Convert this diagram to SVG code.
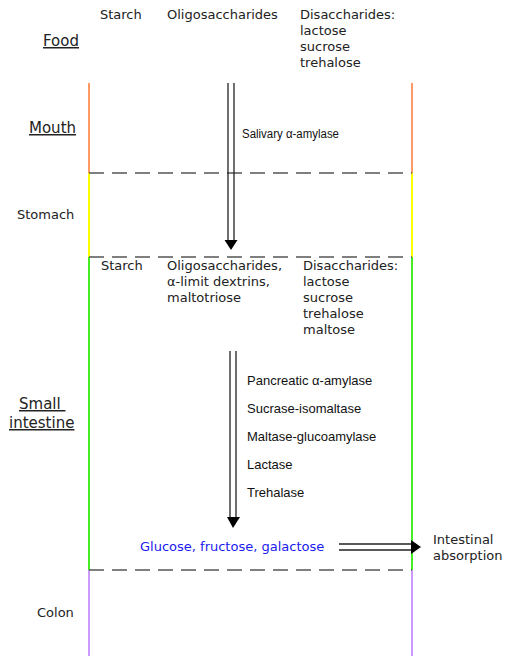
<svg xmlns="http://www.w3.org/2000/svg" width="510" height="656" viewBox="0 0 510 656">
<style>
.t{font-family:"DejaVu Sans",Verdana,sans-serif;font-size:13px;fill:#222}
.h{font-family:"DejaVu Sans",Verdana,sans-serif;font-size:15px;fill:#222;text-decoration:underline}
.e{font-family:"Liberation Sans",Arial,sans-serif;font-size:13px;fill:#111}
.d{stroke:#555;stroke-width:1.5;stroke-dasharray:15 8;fill:none}
.s{stroke:#222;stroke-width:1.3;fill:none}
</style>
<rect width="510" height="656" fill="#fff"/>
<g id="walls">
<line x1="89" y1="83" x2="89" y2="173" stroke="#ff9966" stroke-width="2"/>
<line x1="412" y1="83" x2="412" y2="173" stroke="#ff9966" stroke-width="2"/>
<line x1="89" y1="173" x2="89" y2="257" stroke="#ffff00" stroke-width="2"/>
<line x1="412" y1="173" x2="412" y2="257" stroke="#ffff00" stroke-width="2"/>
<line x1="89" y1="257" x2="89" y2="570" stroke="#44ee22" stroke-width="2"/>
<line x1="412" y1="257" x2="412" y2="570" stroke="#44ee22" stroke-width="2"/>
<line x1="89" y1="570" x2="89" y2="656" stroke="#cc99ff" stroke-width="2"/>
<line x1="412" y1="570" x2="412" y2="656" stroke="#cc99ff" stroke-width="2"/>
<line class="d" x1="89" y1="173" x2="412" y2="173"/>
<line class="d" x1="89" y1="257" x2="412" y2="257"/>
<line class="d" x1="89" y1="570" x2="412" y2="570"/>
</g>
<g id="labels">
<text class="h" x="43" y="46">Food</text>
<text class="h" x="29" y="133">Mouth</text>
<text class="t" x="17" y="219">Stomach</text>
<text class="h" x="19" y="409" xml:space="preserve">Small </text>
<text class="h" x="9" y="428">intestine</text>
<text class="t" x="37" y="617">Colon</text>
</g>
<g id="food">
<text class="t" x="100" y="19">Starch</text>
<text class="t" x="167" y="19">Oligosaccharides</text>
<text class="t" x="300" y="19">Disaccharides:<tspan x="300" dy="16">lactose</tspan><tspan x="300" dy="16">sucrose</tspan><tspan x="300" dy="16">trehalose</tspan></text>
</g>
<g id="intestine-input">
<text class="t" x="101" y="270">Starch</text>
<text class="t" x="167" y="270">Oligosaccharides,<tspan x="167" dy="16">α-limit dextrins,</tspan><tspan x="167" dy="16">maltotriose</tspan></text>
<text class="t" x="303" y="270">Disaccharides:<tspan x="303" dy="16">lactose</tspan><tspan x="303" dy="16">sucrose</tspan><tspan x="303" dy="16">trehalose</tspan><tspan x="303" dy="16">maltose</tspan></text>
</g>
<g id="enzymes">
<text class="e" x="242" y="138" style="font-size:12px" textLength="97" lengthAdjust="spacingAndGlyphs">Salivary α-amylase</text>
<text class="e" x="247" y="385">Pancreatic α-amylase</text>
<text class="e" x="247" y="413">Sucrase-isomaltase</text>
<text class="e" x="247" y="441">Maltase-glucoamylase</text>
<text class="e" x="247" y="469">Lactase</text>
<text class="e" x="247" y="497">Trehalase</text>
</g>
<g id="products">
<text class="t" x="140" y="551" style="fill:#1a1aee">Glucose, fructose, galactose</text>
</g>
<g id="absorption">
<text class="t" x="433" y="544">Intestinal<tspan x="433" dy="16">absorption</tspan></text>
</g>
<g id="connectors">
<line class="s" x1="228" y1="83" x2="228" y2="241"/>
<line class="s" x1="234" y1="83" x2="234" y2="241"/>
<polygon points="224.5,240 237.5,240 231,250" fill="#000"/>
<line class="s" x1="230" y1="351" x2="230" y2="518"/>
<line class="s" x1="236" y1="351" x2="236" y2="518"/>
<polygon points="227,517 240,517 233,528" fill="#000"/>
<line class="s" x1="339" y1="544" x2="412" y2="544"/>
<line class="s" x1="339" y1="550" x2="412" y2="550"/>
<polygon points="411,540 411,554 421,547" fill="#000"/>
</g>
</svg>
